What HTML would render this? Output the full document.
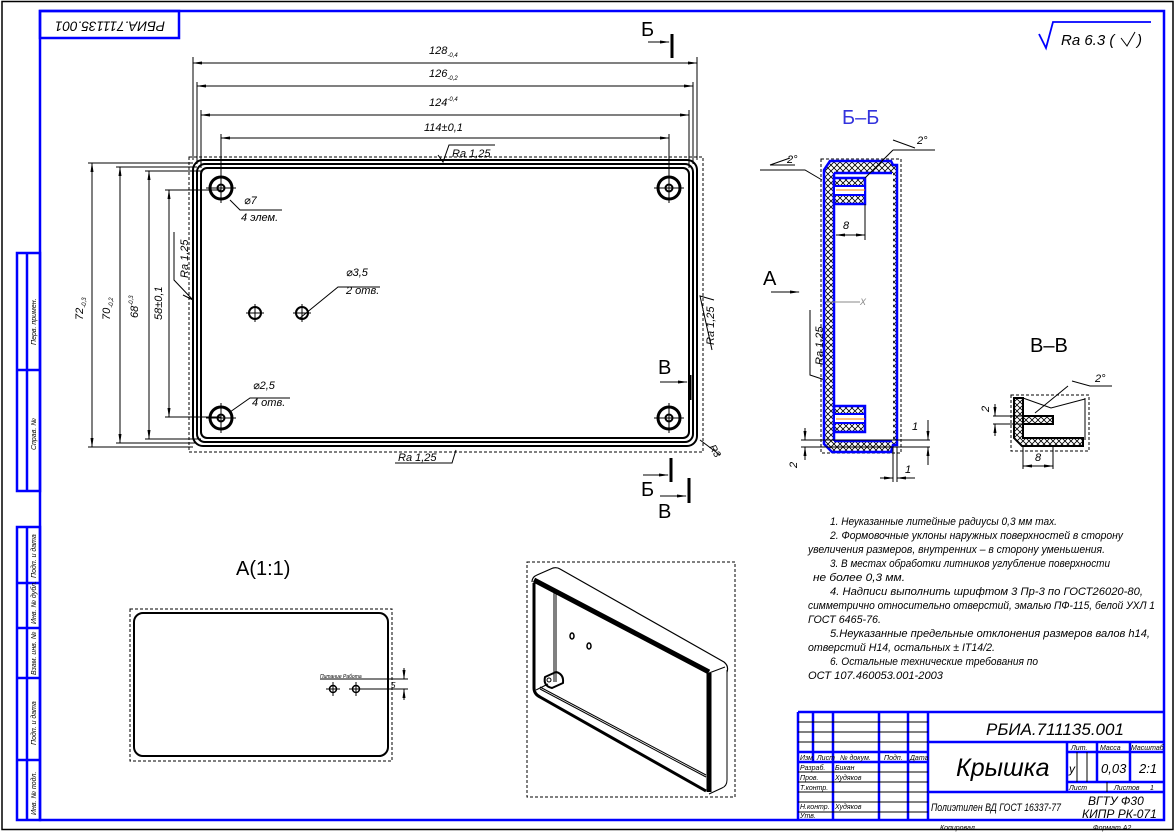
<!DOCTYPE html>
<html><head><meta charset="utf-8"><style>
html,body{margin:0;padding:0;background:#fff;}
svg{display:block;}
text{font-family:"Liberation Sans","DejaVu Sans",sans-serif;font-style:italic;fill:#000;}
</style></head><body>
<svg width="1176" height="833" viewBox="0 0 1176 833" xmlns="http://www.w3.org/2000/svg">
<defs>
<pattern id="h" width="6" height="6" patternUnits="userSpaceOnUse"><path d="M0,0L6,6M6,0L0,6" stroke="#000" stroke-width="0.8"/></pattern>
<marker id="ar" markerWidth="10" markerHeight="6" refX="9" refY="3" orient="auto" markerUnits="userSpaceOnUse"><path d="M0,1.5L10,3L0,4.5z" fill="#000"/></marker>
<marker id="al" markerWidth="10" markerHeight="6" refX="1" refY="3" orient="auto" markerUnits="userSpaceOnUse"><path d="M10,1.5L0,3L10,4.5z" fill="#000"/></marker>
</defs>
<rect x="2" y="1.5" width="1171" height="828" fill="none" stroke="#000" stroke-width="1.5"/>
<g stroke="#0000ff" stroke-width="2.5" fill="none">
<rect x="40" y="11" width="1124" height="809"/>
<rect x="40" y="11" width="139" height="27"/>
<rect x="17" y="253" width="23" height="238"/>
<line x1="27" y1="253" x2="27" y2="491"/><line x1="17" y1="370" x2="40" y2="370"/>
<rect x="17" y="527" width="23" height="293"/>
<line x1="27" y1="527" x2="27" y2="820"/>
<line x1="17" y1="583" x2="40" y2="583"/><line x1="17" y1="628" x2="40" y2="628"/>
<line x1="17" y1="678" x2="40" y2="678"/><line x1="17" y1="760" x2="40" y2="760"/>
<line x1="798" y1="712" x2="1164" y2="712"/>
<line x1="798" y1="712" x2="798" y2="820"/>
<line x1="813" y1="712" x2="813" y2="762"/>
<line x1="833" y1="712" x2="833" y2="820"/>
<line x1="879" y1="712" x2="879" y2="820"/>
<line x1="908" y1="712" x2="908" y2="820"/>
<line x1="928" y1="712" x2="928" y2="820"/>
<line x1="798" y1="752" x2="928" y2="752"/>
<line x1="798" y1="762" x2="928" y2="762"/>
<line x1="928" y1="742" x2="1164" y2="742"/>
<line x1="1067" y1="742" x2="1067" y2="792"/>
<line x1="1097" y1="742" x2="1097" y2="782"/>
<line x1="1130" y1="742" x2="1130" y2="782"/>
<line x1="1067" y1="752" x2="1164" y2="752"/>
<line x1="1067" y1="782" x2="1164" y2="782"/>
<line x1="928" y1="792" x2="1164" y2="792"/>
</g>
<g stroke="#000" stroke-width="1" fill="none">
<line x1="798" y1="722" x2="928" y2="722"/><line x1="798" y1="732" x2="928" y2="732"/><line x1="798" y1="742" x2="928" y2="742"/>
<line x1="798" y1="772" x2="928" y2="772"/><line x1="798" y1="782" x2="928" y2="782"/><line x1="798" y1="792" x2="928" y2="792"/>
<line x1="798" y1="802" x2="928" y2="802"/><line x1="798" y1="812" x2="928" y2="812"/>
<line x1="1077" y1="752" x2="1077" y2="782"/><line x1="1087" y1="752" x2="1087" y2="782"/>
<line x1="1107" y1="782" x2="1107" y2="792"/>
</g>
<g font-size="7">
<text x="800" y="760">Изм. Лист</text><text x="840" y="760">№ докум.</text><text x="884" y="760">Подп.</text><text x="910" y="760">Дата</text>
<text x="800" y="770">Разраб.</text><text x="835" y="770">Бикан</text>
<text x="800" y="780">Пров.</text><text x="835" y="780">Худяков</text>
<text x="800" y="790">Т.контр.</text>
<text x="800" y="809">Н.контр.</text><text x="835" y="809">Худяков</text>
<text x="800" y="818">Утв.</text>
<text x="1071" y="750">Лит.</text><text x="1100" y="750">Масса</text><text x="1131" y="750">Масштаб</text>
<text x="1069" y="790">Лист</text><text x="1114" y="790">Листов</text><text x="1150" y="790">1</text>
<text x="940" y="830">Копировал</text><text x="1093" y="830">Формат  A2</text>
</g>
<text x="986" y="735" font-size="17">РБИА.711135.001</text>
<text x="956" y="776" font-size="25">Крышка</text>
<text x="1069" y="773" font-size="12">у</text>
<text x="1101" y="773" font-size="13">0,03</text>
<text x="1139" y="773" font-size="13">2:1</text>
<text x="931" y="811" font-size="11" textLength="130" lengthAdjust="spacingAndGlyphs">Полиэтилен ВД  ГОСТ 16337-77</text>
<text x="1088" y="805" font-size="12">ВГТУ Ф30</text>
<text x="1082" y="818" font-size="12">КИПР РК-071</text>
<g font-size="7">
<text transform="translate(36,345) rotate(-90)">Перв. примен.</text>
<text transform="translate(36,450) rotate(-90)">Справ. №</text>
<text transform="translate(36,578) rotate(-90)">Подп. и дата</text>
<text transform="translate(36,624) rotate(-90)">Инв. № дубл.</text>
<text transform="translate(36,675) rotate(-90)">Взам. инв. №</text>
<text transform="translate(36,745) rotate(-90)">Подп. и дата</text>
<text transform="translate(36,815) rotate(-90)">Инв. № подл.</text>
</g>
<text transform="translate(110,25) rotate(180)" font-size="14" text-anchor="middle" dominant-baseline="middle" textLength="110" lengthAdjust="spacingAndGlyphs">РБИА.711135.001</text>
<path d="M1039,34L1046,48L1053,22L1151,22" stroke="#0000ff" stroke-width="1.8" fill="none"/>
<text x="1061" y="45" font-size="15">Ra 6.3 (</text><path d="M1121,38L1127,46L1135,32" stroke="#000" fill="none"/><text x="1137" y="45" font-size="15">)</text>

<g fill="none" stroke="#000">
<rect x="189" y="157" width="514" height="295" stroke-dasharray="3,2" stroke-width="1"/>
<rect x="193" y="160" width="504" height="286" rx="10" stroke-width="2"/>
<rect x="197" y="164" width="496" height="278" rx="8" stroke-width="2"/>
<rect x="201" y="168" width="488" height="270" rx="6" stroke-width="2"/>
<g stroke-width="1">
<line x1="193" y1="160" x2="193" y2="57"/><line x1="697" y1="160" x2="697" y2="57"/>
<line x1="193" y1="63" x2="697" y2="63" marker-start="url(#al)" marker-end="url(#ar)"/>
<line x1="197" y1="164" x2="197" y2="82"/><line x1="693" y1="164" x2="693" y2="82"/>
<line x1="197" y1="86" x2="693" y2="86" marker-start="url(#al)" marker-end="url(#ar)"/>
<line x1="201" y1="168" x2="201" y2="110"/><line x1="689" y1="168" x2="689" y2="110"/>
<line x1="201" y1="115" x2="689" y2="115" marker-start="url(#al)" marker-end="url(#ar)"/>
<line x1="221" y1="200" x2="221" y2="134"/><line x1="669" y1="200" x2="669" y2="134"/>
<line x1="221" y1="138" x2="669" y2="138" marker-start="url(#al)" marker-end="url(#ar)"/>
<line x1="193" y1="163" x2="88" y2="163"/><line x1="193" y1="447" x2="88" y2="447"/>
<line x1="92" y1="163" x2="92" y2="447" marker-start="url(#al)" marker-end="url(#ar)"/>
<line x1="197" y1="167" x2="116" y2="167"/><line x1="197" y1="443" x2="116" y2="443"/>
<line x1="120" y1="167" x2="120" y2="443" marker-start="url(#al)" marker-end="url(#ar)"/>
<line x1="201" y1="171" x2="145" y2="171"/><line x1="201" y1="439" x2="145" y2="439"/>
<line x1="149" y1="171" x2="149" y2="439" marker-start="url(#al)" marker-end="url(#ar)"/>
<line x1="221" y1="190" x2="165" y2="190"/><line x1="221" y1="417" x2="165" y2="417"/>
<line x1="169" y1="190" x2="169" y2="417" marker-start="url(#al)" marker-end="url(#ar)"/>
<path d="M438,155L443,162L449,145L495,145"/>
<path d="M183,295L193,300L174,280L174,232"/>
<path d="M395,463L452,463L456,450"/>
<path d="M714,300L700,296L712,350"/>
<path d="M825,380L810,375L810,310"/>
<path d="M230,200L240,210L282,210"/>
<path d="M300,318L338,287L380,287"/>
<path d="M230,412L250,398L290,398"/>
<path d="M700,440L720,455"/>
</g>
<g stroke-width="3">
<circle cx="221" cy="188" r="11"/><circle cx="669" cy="188" r="11"/>
<circle cx="221" cy="418" r="11"/><circle cx="669" cy="418" r="11"/>
</g>
<g stroke-width="2">
<circle cx="221" cy="188" r="3.5"/><circle cx="669" cy="188" r="3.5"/>
<circle cx="221" cy="418" r="3.5"/><circle cx="669" cy="418" r="3.5"/>
<circle cx="255" cy="313" r="6"/><circle cx="302" cy="313" r="6"/>
</g>
<g stroke-width="1">
<path d="M206,188H236M221,173V203M654,188H684M669,173V203M206,418H236M221,403V433M654,418H684M669,403V433M246,313H264M255,304V322M293,313H311M302,304V322"/>
</g>
<g stroke-width="3"><line x1="672" y1="34" x2="672" y2="58"/><line x1="690" y1="375" x2="690" y2="400"/><line x1="671" y1="458" x2="671" y2="482"/><line x1="689" y1="478" x2="689" y2="503"/></g>
<g stroke-width="1"><line x1="648" y1="42" x2="669" y2="42" marker-end="url(#ar)"/><line x1="660" y1="382" x2="687" y2="382" marker-end="url(#ar)"/><line x1="643" y1="475" x2="668" y2="475" marker-end="url(#ar)"/><line x1="660" y1="496" x2="686" y2="496" marker-end="url(#ar)"/>
<line x1="771" y1="292" x2="799" y2="292" marker-end="url(#ar)"/></g>
</g>
<g font-size="11">
<text x="429" y="54">128<tspan font-size="6" dy="3">-0,4</tspan></text>
<text x="429" y="77">126<tspan font-size="6" dy="3">-0,2</tspan></text>
<text x="429" y="106">124<tspan font-size="6" dy="-5">-0,4</tspan></text>
<text x="424" y="131">114±0,1</text>
<text x="452" y="157">Ra 1,25</text>
<text transform="translate(83,320) rotate(-90)">72<tspan font-size="6" dy="3">-0,3</tspan></text>
<text transform="translate(110,320) rotate(-90)">70<tspan font-size="6" dy="3">-0,2</tspan></text>
<text transform="translate(138,318) rotate(-90)">68<tspan font-size="6" dy="-5">-0,3</tspan></text>
<text transform="translate(162,320) rotate(-90)">58±0,1</text>
<text transform="translate(188,278) rotate(-90)">Ra 1,25</text>
<text transform="translate(714,345) rotate(-90)">Ra 1,25</text>
<text transform="translate(823,365) rotate(-90)">Ra 1,25</text>
<text x="398" y="461">Ra 1,25</text>
<text x="244" y="204">⌀7</text><text x="241" y="221">4 элем.</text>
<text x="346" y="276">⌀3,5</text><text x="346" y="294">2 отв.</text>
<text x="253" y="389">⌀2,5</text><text x="252" y="406">4 отв.</text>
<text transform="translate(709,447) rotate(60)" font-size="10">R3</text>
</g>
<g font-size="20" font-family="Liberation Sans">
<text x="641" y="36" style="font-style:normal">Б</text>
<text x="658" y="374" style="font-style:normal">В</text>
<text x="641" y="496" style="font-style:normal">Б</text>
<text x="658" y="518" style="font-style:normal">В</text>
<text x="763" y="285" style="font-style:normal">А</text>
<text x="842" y="124" style="font-style:normal;fill:#3333dd">Б–Б</text>
<text x="1030" y="352" style="font-style:normal">В–В</text>
<text x="236" y="575" style="font-style:normal">А(1:1)</text>
</g>

<rect x="821" y="159" width="80" height="294" fill="none" stroke="#000" stroke-dasharray="3,2"/>
<path d="M824,170L830,161H891L893,165H897V445H893L891,452H832L824,444Z" fill="url(#h)" stroke="#0000ff" stroke-width="2.5"/>
<path d="M834,173H893V441H834Z" fill="#fff" stroke="none"/>
<path d="M834,173H892M834,441H892M834,173V441" stroke="#0000ff" stroke-width="2.5" fill="none"/>
<rect x="834" y="178" width="31" height="26" fill="url(#h)" stroke="#0000ff" stroke-width="2.5"/>
<rect x="834" y="186" width="31" height="9" fill="#fff" stroke="#0000ff" stroke-width="2"/>
<rect x="834" y="406" width="31" height="26" fill="url(#h)" stroke="#0000ff" stroke-width="2.5"/>
<rect x="834" y="414" width="31" height="9" fill="#fff" stroke="#0000ff" stroke-width="2"/>
<line x1="836" y1="190" x2="865" y2="190" stroke="#ff8000"/><line x1="836" y1="419" x2="865" y2="419" stroke="#ff8000"/>
<g stroke="#000" fill="none" stroke-width="1">
<line x1="865" y1="204" x2="865" y2="240"/>
<line x1="836" y1="235" x2="865" y2="235" marker-start="url(#al)" marker-end="url(#ar)"/>
<path d="M760,170L805,170L822,180"/><path d="M893,150L935,150M893,150L865,178"/>
<path d="M770,165L790,158M770,165L795,165"/><path d="M893,140L915,148"/>
<line x1="801" y1="440" x2="930" y2="440"/><line x1="801" y1="447" x2="930" y2="447"/>
<line x1="805" y1="428" x2="805" y2="440" marker-end="url(#ar)"/><line x1="805" y1="460" x2="805" y2="447" marker-end="url(#ar)"/>
<line x1="928" y1="420" x2="928" y2="440" marker-end="url(#ar)"/><line x1="928" y1="465" x2="928" y2="447" marker-end="url(#ar)"/>
<line x1="893" y1="447" x2="893" y2="482"/><line x1="897" y1="447" x2="897" y2="482"/>
<line x1="880" y1="478" x2="893" y2="478" marker-end="url(#ar)"/><line x1="915" y1="478" x2="897" y2="478" marker-end="url(#ar)"/>
</g>
<path d="M826,302H860" stroke="#888" fill="none"/><text x="860" y="305" font-size="9" style="fill:#888">X</text>
<g font-size="11"><text x="843" y="229">8</text><text x="787" y="163">2°</text><text x="917" y="144">2°</text>
<text transform="translate(797,468) rotate(-90)">2</text><text x="912" y="430">1</text><text x="905" y="473">1</text></g>

<rect x="1011" y="395" width="78" height="56" fill="none" stroke="#000" stroke-dasharray="3,2"/>
<path d="M1014,398H1023V438H1083V446H1022L1014,438Z" fill="url(#h)" stroke="#000" stroke-width="2"/>
<rect x="1023" y="416" width="30" height="8" fill="url(#h)" stroke="#000" stroke-width="2"/>
<path d="M1085,398V440M1023,398L1051,408L1085,399" stroke="#000" fill="none"/>
<g stroke="#000" fill="none">
<line x1="993" y1="416" x2="1030" y2="416"/><line x1="993" y1="424" x2="1030" y2="424"/>
<line x1="995" y1="404" x2="995" y2="416" marker-end="url(#ar)"/><line x1="995" y1="436" x2="995" y2="424" marker-end="url(#ar)"/>
<line x1="1023" y1="446" x2="1023" y2="469"/><line x1="1053" y1="446" x2="1053" y2="469"/>
<line x1="1023" y1="466" x2="1053" y2="466" marker-start="url(#al)" marker-end="url(#ar)"/>
<path d="M1072,381L1090,386L1112,386M1068,386L1035,413"/>
</g>
<g font-size="11"><text transform="translate(989,412) rotate(-90)">2</text><text x="1035" y="461">8</text><text x="1095" y="382">2°</text></g>

<rect x="130" y="609" width="262" height="152" fill="none" stroke="#000" stroke-dasharray="3,2"/>
<rect x="134" y="613" width="254" height="143" rx="9" fill="none" stroke="#000" stroke-width="2"/>
<g stroke="#000" fill="none">
<circle cx="333" cy="689" r="3.5" stroke-width="1.5"/><circle cx="356" cy="689" r="3.5" stroke-width="1.5"/>
<path d="M326,689H340M333,682V696M349,689H363M356,682V696"/>
<line x1="320" y1="679" x2="408" y2="679"/><line x1="360" y1="689" x2="408" y2="689"/>
<line x1="404" y1="668" x2="404" y2="679" marker-end="url(#ar)"/><line x1="404" y1="700" x2="404" y2="689" marker-end="url(#ar)"/>
</g>
<text x="320" y="678" font-size="5">Питание  Работа</text>
<text x="391" y="688" font-size="8">5</text>

<rect x="527" y="562" width="208" height="235" fill="none" stroke="#000" stroke-dasharray="3,2"/>
<g stroke="#000" fill="none" stroke-linejoin="round">
<path d="M532,582Q532,577 537,575L553,568Q557,567 560,569L724,662Q729,666 727,672" stroke-width="1.2"/>
<path d="M534,580L709,672" stroke-width="5"/>
<path d="M534,583V688Q534,694 540,697L706,791" stroke-width="3"/>
<path d="M709,673V792" stroke-width="5"/>
<path d="M727,670V780Q727,786 722,788L709,794"/>
<path d="M709,673L725,667"/>
<path d="M554,591V682"/><path d="M556,592V682"/>
<path d="M540,687L706,775"/><path d="M540,689L706,777"/><path d="M536,690L548,684"/>
<ellipse cx="572" cy="636" rx="2" ry="3" stroke-width="1.5"/><ellipse cx="589" cy="646" rx="2" ry="3" stroke-width="1.5"/>
<path d="M545,677L556,672Q564,674 563,683L552,688Q543,686 545,677Z" stroke-width="2"/>
<circle cx="549" cy="680" r="2"/>
</g>

<g font-size="11" lengthAdjust="spacingAndGlyphs">
<text x="830" y="525" textLength="227" lengthAdjust="spacingAndGlyphs">1. Неуказанные литейные радиусы 0,3 мм max.</text>
<text x="830" y="539" textLength="293" lengthAdjust="spacingAndGlyphs">2. Формовочные уклоны наружных поверхностей в сторону</text>
<text x="808" y="553" textLength="297" lengthAdjust="spacingAndGlyphs">увеличения размеров, внутренних – в сторону уменьшения.</text>
<text x="830" y="567" textLength="280" lengthAdjust="spacingAndGlyphs">3. В местах обработки литников углубление поверхности</text>
<text x="813" y="581" textLength="92" lengthAdjust="spacingAndGlyphs">не более 0,3 мм.</text>
<text x="830" y="595" textLength="313" lengthAdjust="spacingAndGlyphs">4. Надписи выполнить шрифтом 3 Пр-3 по ГОСТ26020-80,</text>
<text x="808" y="609" textLength="347" lengthAdjust="spacingAndGlyphs">симметрично относительно отверстий, эмалью ПФ-115, белой УХЛ 1</text>
<text x="808" y="623" textLength="73" lengthAdjust="spacingAndGlyphs">ГОСТ 6465-76.</text>
<text x="830" y="637" textLength="320" lengthAdjust="spacingAndGlyphs">5.Неуказанные предельные отклонения размеров валов h14,</text>
<text x="808" y="651" textLength="187" lengthAdjust="spacingAndGlyphs">отверстий H14, остальных ± IT14/2.</text>
<text x="830" y="665" textLength="208" lengthAdjust="spacingAndGlyphs">6. Остальные технические требования по</text>
<text x="808" y="679" textLength="135" lengthAdjust="spacingAndGlyphs">ОСТ 107.460053.001-2003</text>
</g>
</svg>
</body></html>
